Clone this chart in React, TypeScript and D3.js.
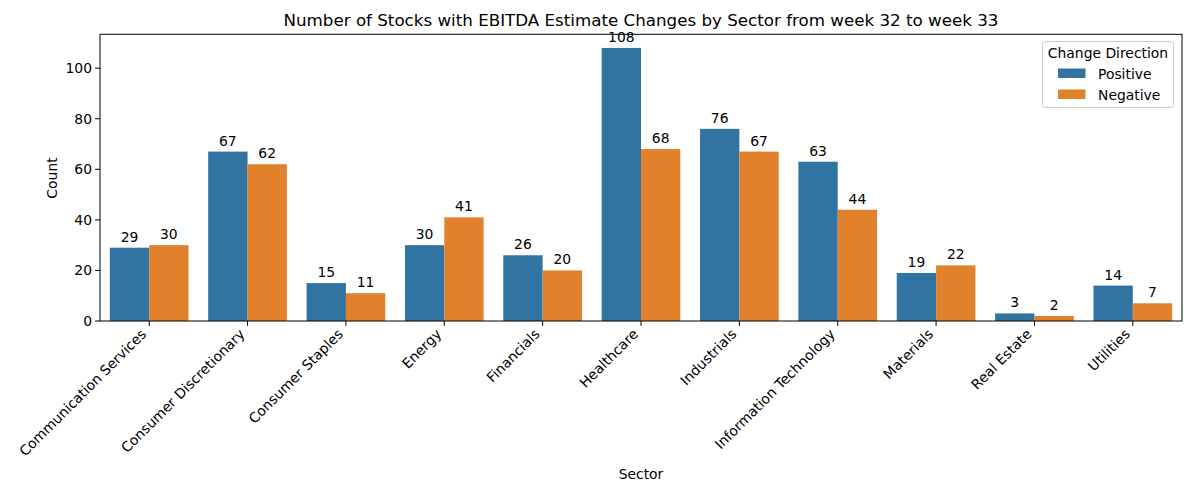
import { useEffect } from 'react';
import * as d3 from 'd3';

const sectors = [
  'Communication Services',
  'Consumer Discretionary',
  'Consumer Staples',
  'Energy',
  'Financials',
  'Healthcare',
  'Industrials',
  'Information Technology',
  'Materials',
  'Real Estate',
  'Utilities',
];
const directions = ['Positive', 'Negative'];
const positiveCounts = [29, 67, 15, 30, 26, 108, 76, 63, 19, 3, 14];
const negativeCounts = [30, 62, 11, 41, 20, 68, 67, 44, 22, 2, 7];
const yTicks = [0, 20, 40, 60, 80, 100];
const colors = ['#3274a1', '#e1812c'];

const width = 1190;
const height = 484;
const margin = { top: 34.3, right: 8, bottom: 163, left: 100 };
const font = 'DejaVu Sans, sans-serif';

export default function App() {
  useEffect(() => {
    document.body.style.margin = '0';
  }, []);

  const innerW = width - margin.left - margin.right;
  const innerH = height - margin.top - margin.bottom;
  const maxVal = d3.max([...positiveCounts, ...negativeCounts]) ?? 1;

  const x = d3.scaleBand().domain(sectors).range([0, innerW]).paddingInner(0.2).paddingOuter(0.1);
  const xHue = d3.scaleBand().domain(directions).range([0, x.bandwidth()]);
  const y = d3.scaleLinear().domain([0, maxVal * 1.05]).range([innerH, 0]);
  const step = innerW / sectors.length;

  const series = [positiveCounts, negativeCounts];

  return (
    <svg width={width} height={height} style={{ display: 'block', fontFamily: font }}>
      <rect width={width} height={height} fill="#fff" />
      <text x={641} y={26} textAnchor="middle" fontSize={16.7} fill="#000">
        Number of Stocks with EBITDA Estimate Changes by Sector from week 32 to week 33
      </text>
      <g transform={`translate(${margin.left},${margin.top})`}>
        {series.map((vals, si) =>
          vals.map((v, i) => {
            const bx = (x(sectors[i]) ?? 0) + (xHue(directions[si]) ?? 0);
            return (
              <g key={`${si}-${i}`}>
                <rect x={bx} y={y(v)} width={xHue.bandwidth()} height={innerH - y(v)} fill={colors[si]} />
                <text x={bx + xHue.bandwidth() / 2} y={y(v) - 6} textAnchor="middle" fontSize={13.9} fill="#000">
                  {v}
                </text>
              </g>
            );
          })
        )}
        <rect x={0} y={0} width={innerW} height={innerH} fill="none" stroke="#000" strokeWidth={1} />
        {yTicks.map((t) => (
          <g key={t} transform={`translate(0,${y(t)})`}>
            <line x1={-4.9} x2={0} stroke="#000" />
            <text x={-8} dy="0.35em" textAnchor="end" fontSize={13.9} fill="#000">
              {t}
            </text>
          </g>
        ))}
        {sectors.map((s, i) => {
          const cx = step * i + step / 2;
          return (
            <g key={s}>
              <line x1={cx} x2={cx} y1={innerH} y2={innerH + 4.9} stroke="#000" />
              <text
                transform={`translate(${cx - 2},${innerH + 14}) rotate(-45)`}
                textAnchor="end"
                fontSize={13.9}
                fill="#000"
              >
                {s}
              </text>
            </g>
          );
        })}
      </g>
      <text x={641} y={479} textAnchor="middle" fontSize={13.9} fill="#000">
        Sector
      </text>
      <text transform="translate(57,178) rotate(-90)" textAnchor="middle" fontSize={13.9} fill="#000">
        Count
      </text>
      <g>
        <rect x={1042.5} y={41.5} width={131} height={66} rx={3} fill="#fff" fillOpacity={0.8} stroke="#ccc" />
        <text x={1108} y={58} textAnchor="middle" fontSize={13.9} fill="#000">
          Change Direction
        </text>
        {directions.map((d, i) => (
          <g key={d} transform={`translate(0,${i * 21})`}>
            <rect x={1058} y={68.5} width={27.5} height={9.5} fill={colors[i]} />
            <text x={1098} y={78.5} fontSize={13.9} fill="#000">
              {d}
            </text>
          </g>
        ))}
      </g>
    </svg>
  );
}
